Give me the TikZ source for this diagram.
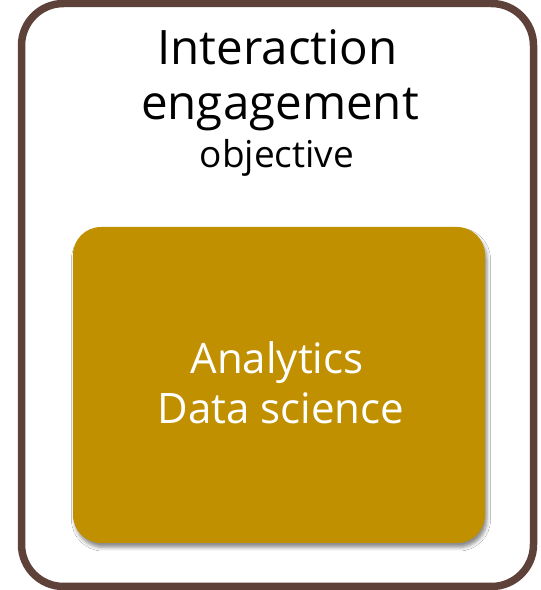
\documentclass[tikz,border=0pt]{standalone}
\usepackage{fontspec}
\setmainfont{Open Sans}
\usetikzlibrary{shadows.blur}
\definecolor{framebrown}{RGB}{94,65,56}
\definecolor{gold}{RGB}{192,144,0}
\tikzset{
  frame/.style={draw=framebrown, line width=7.5pt, rounded corners=42pt, fill=white},
  corebox/.style={fill=gold, rounded corners=28pt,
    blur shadow={shadow xshift=2pt, shadow yshift=-4.5pt, shadow blur radius=3.5pt, shadow opacity=45}},
  bigtext/.style={anchor=base, font=\fontsize{47.5}{55}\selectfont, text=black},
  smalltext/.style={anchor=base, font=\fontsize{37}{40}\selectfont, text=black},
  coretext/.style={anchor=base, font=\fontsize{42}{50}\selectfont, text=white},
}
\begin{document}
\begin{tikzpicture}[x=1pt,y=1pt]
  \useasboundingbox (0,0) rectangle (541,590);
  % outer frame
  \node (outer) [frame, minimum width=512pt, minimum height=583pt] at (277.5,295) {};
  % heading
  \node (l1) [bigtext] at (277.5,525) {Interaction};
  \node (l2) [bigtext] at (280,470) {engagement};
  \node (l3) [smalltext] at (277,422) {objective};
  % inner box
  \node (core) [corebox, minimum width=412pt, minimum height=316pt] at (279,205) {};
  \node (c1) [coretext] at (277,216) {Analytics};
  \node (c2) [coretext] at (281,166) {Data science};
\end{tikzpicture}
\end{document}
